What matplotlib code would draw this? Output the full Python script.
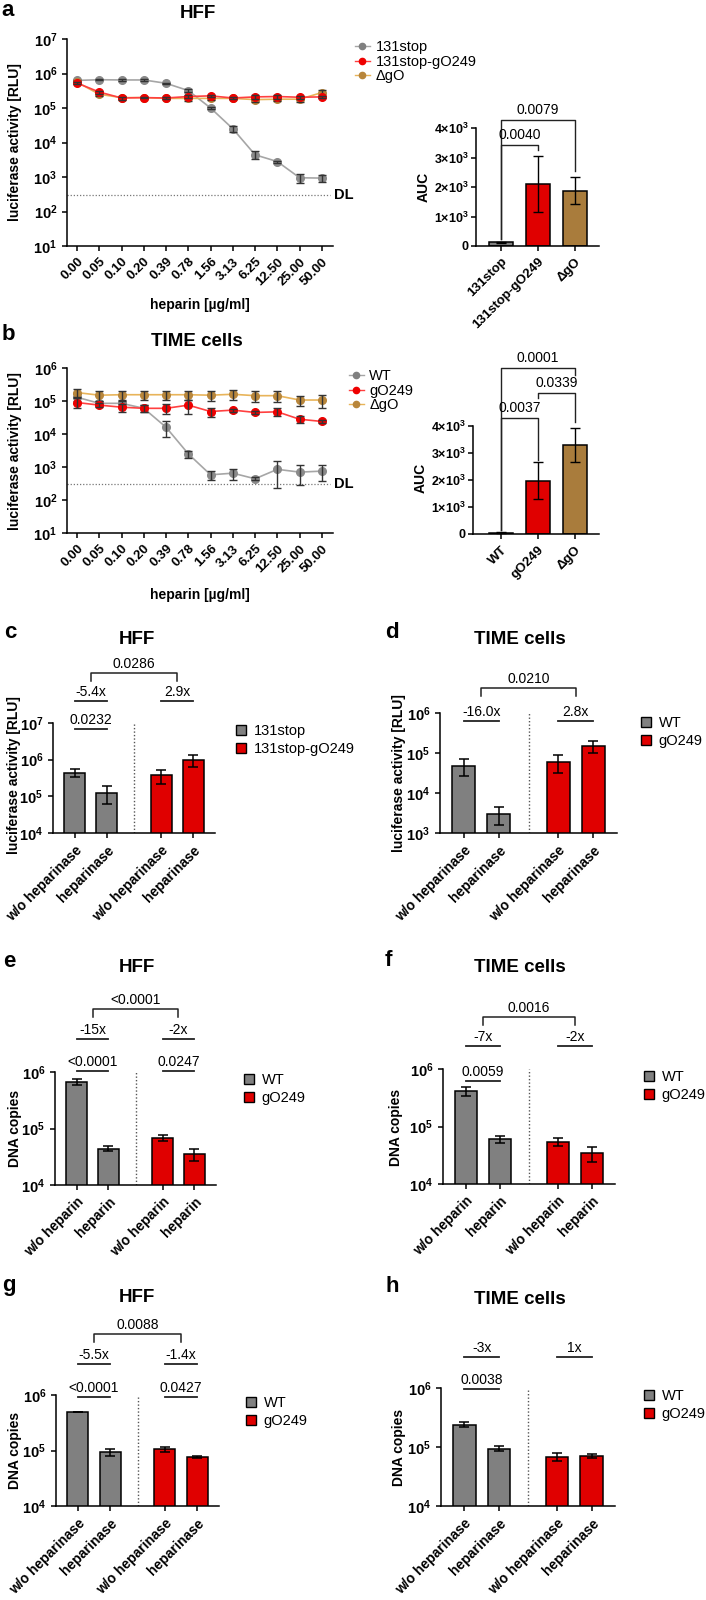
import numpy as np
import matplotlib
matplotlib.use('Agg')
import matplotlib.pyplot as plt
from matplotlib.ticker import NullLocator
from matplotlib.patches import Patch
from matplotlib.lines import Line2D

plt.rcParams['font.family'] = ['Liberation Sans', 'DejaVu Sans']
plt.rcParams['font.weight'] = 'bold'
plt.rcParams['mathtext.fontset'] = 'custom'
plt.rcParams['mathtext.rm'] = 'Liberation Sans'
plt.rcParams['mathtext.bf'] = 'Liberation Sans:bold'
plt.rcParams['mathtext.default'] = 'bf'
plt.rcParams['axes.linewidth'] = 1.1

# ---- data ----
heparin = ['0.00', '0.05', '0.10', '0.20', '0.39', '0.78', '1.56', '3.13',
           '6.25', '12.50', '25.00', '50.00']

a_131 = [6.3e5, 6.6e5, 6.5e5, 6.5e5, 5.2e5, 3.2e5, 1.0e5, 2.5e4, 4.4e3, 2.8e3, 950, 930]
a_131_sd = [4e4, 3e4, 3e4, 3e4, 2e4, 3e4, 5e3, 5e3, 1.1e3, 2e2, 300, 200]
a_g249 = [5.3e5, 2.9e5, 1.95e5, 2.0e5, 1.95e5, 2.15e5, 2.25e5, 1.95e5, 2.1e5, 2.15e5, 2.05e5, 2.1e5]
a_g249_sd = [3e4, 3e4, 2e4, 1e4, 1e4, 2e4, 2e4, 1e4, 3e4, 3e4, 2e4, 2e4]
a_dgo = [5.6e5, 2.5e5, 2.0e5, 2.0e5, 1.9e5, 1.9e5, 1.9e5, 1.9e5, 1.75e5, 1.8e5, 1.8e5, 2.8e5]
a_dgo_sd = [3e4, 2e4, 2e4, 1e4, 1e4, 3e4, 2e4, 1e4, 3e4, 2e4, 3e4, 5e4]

b_wt = [1.3e5, 8.5e4, 8.5e4, 6.0e4, 1.6e4, 2.5e3, 580, 650, 440, 850, 700, 750]
b_wt_sd = [3e4, 1.5e4, 1.5e4, 1.5e4, 8e3, 6e2, 190, 250, 50, 620, 420, 380]
b_g249 = [9.0e4, 7.5e4, 6.5e4, 6.0e4, 6.0e4, 7.5e4, 4.8e4, 5.3e4, 4.5e4, 4.7e4, 2.8e4, 2.4e4]
b_g249_sd = [3e4, 1e4, 1.8e4, 1.5e4, 2e4, 3.5e4, 1.5e4, 5e3, 5e3, 1.3e4, 6e3, 2e3]
b_dgo = [1.8e5, 1.5e5, 1.55e5, 1.55e5, 1.55e5, 1.55e5, 1.5e5, 1.6e5, 1.45e5, 1.45e5, 1.07e5, 1.07e5]
b_dgo_sd = [5e4, 5e4, 5e4, 5e4, 5e4, 5e4, 5e4, 5e4, 5e4, 5e4, 3.5e4, 4.5e4]
detection_limit = 300

auc_a_names = ['131stop', '131stop-gO249', 'ΔgO']
auc_a = [120, 2100, 1880]
auc_a_sd = [30, 960, 450]
auc_b_names = ['WT', 'gO249', 'ΔgO']
auc_b = [50, 1970, 3300]
auc_b_sd = [20, 680, 630]

heparinase_lbl = ['w/o heparinase', 'heparinase', 'w/o heparinase', 'heparinase']
heparin_lbl = ['w/o heparin', 'heparin', 'w/o heparin', 'heparin']

c_vals = [4.4e5, 1.25e5, 3.7e5, 9.7e5]
c_sd = [1e5, 6.5e4, 1.5e5, 3.5e5]
d_vals = [4.8e4, 3.0e3, 6.0e4, 1.5e5]
d_sd = [2.1e4, 1.4e3, 2.8e4, 4.8e4]
e_vals = [6.7e5, 4.4e4, 6.8e4, 3.5e4]
e_sd = [7e4, 4.5e3, 8e3, 8.5e3]
f_vals = [4.1e5, 6.1e4, 5.4e4, 3.4e4]
f_sd = [7e4, 8.5e3, 8e3, 1e4]
g_vals = [4.9e5, 9.3e4, 1.06e5, 7.6e4]
g_sd = [5e3, 1.4e4, 1.2e4, 3e3]
h_vals = [2.4e5, 9.4e4, 6.9e4, 7.1e4]
h_sd = [2.5e4, 9e3, 1e4, 5e3]

GRAY, RED, BROWN = '#808080', '#e00000', '#a97c3c'

W, H = 706, 1600
fig = plt.figure(figsize=(W / 100, H / 100), dpi=100)


def add_ax(l, t, r, b):
    ax = fig.add_axes([l / W, 1 - b / H, (r - l) / W, (b - t) / H])
    ax.spines[['top', 'right']].set_visible(False)
    ax.tick_params(length=3.5, width=1.1, labelsize=10.5)
    return ax


def ftext(x, y, s, **kw):
    fig.text(x / W, 1 - y / H, s, **kw)


def log_axis(ax, lo, hi):
    ax.set_yscale('log')
    ax.set_ylim(10 ** lo, 10 ** hi)
    ks = range(lo, hi + 1)
    ax.set_yticks([10.0 ** k for k in ks], ['10$^{%d}$' % k for k in ks])
    ax.yaxis.set_minor_locator(NullLocator())


def line_panel(ax, series, hi):
    x = np.arange(len(heparin))
    for vals, sd, mc, lc, z in series:
        ax.plot(x, vals, '-', color=lc, lw=1.2, zorder=z)
        ax.errorbar(x, vals, yerr=sd, fmt='none', ecolor='#333333', elinewidth=1,
                    capsize=2.8, capthick=1, zorder=z + 0.5)
        ax.plot(x, vals, 'o', color=mc, ms=5.5, zorder=z + 0.2)
    log_axis(ax, 1, hi)
    ax.set_xlim(-0.45, 11.5)
    ax.set_xticks(x, heparin, rotation=45, ha='right', rotation_mode='anchor', fontsize=9.5)
    ax.axhline(detection_limit, xmax=0.99, color='#777777', ls=(0, (1, 1.5)), lw=0.9)
    ax.text(1.003, detection_limit, 'DL', transform=ax.get_yaxis_transform(),
            va='center', ha='left', fontsize=10.5)


def auc_panel(ax, names, vals, sd, colors, xl):
    x = np.arange(len(names))
    ax.bar(x, vals, width=0.65, color=colors, edgecolor='black', lw=1.1, zorder=2)
    ax.errorbar(x, vals, yerr=sd, fmt='none', ecolor='black', elinewidth=1,
                capsize=3.5, capthick=1, zorder=3)
    ax.set_ylim(0, 4000)
    ax.set_yticks([0, 1000, 2000, 3000, 4000],
                  ['0'] + ['%d×10$^{3}$' % k for k in range(1, 5)])
    ax.tick_params(axis='y', labelsize=9, pad=2)
    ax.set_xlim(xl, 2.65)
    ax.set_xticks(x, names, rotation=45, ha='right', rotation_mode='anchor', fontsize=9.5)


def bracket_data(ax, x1, x2, y, y1, y2, s):
    ax.plot([x1, x1, x2, x2], [y1, y, y, y2], color='#222222', lw=1, clip_on=False)
    ax.annotate(s, ((x1 + x2) / 2, y), xytext=(0, 2), textcoords='offset points',
                ha='center', va='bottom', fontsize=10, fontweight='normal',
                annotation_clip=False)


gap = 0.7
pos = np.array([i + gap * (i >= 2) for i in range(4)])


def bar_panel(ax, vals, sd, labels, lo, hi):
    log_axis(ax, lo, hi)
    ax.bar(pos, vals, width=0.65, color=[GRAY, GRAY, RED, RED], edgecolor='black',
           lw=1.1, zorder=2)
    ax.errorbar(pos, vals, yerr=sd, fmt='none', ecolor='black', elinewidth=1.1,
                capsize=3.5, capthick=1.1, zorder=3)
    ax.set_ylim(10 ** lo, 10 ** hi)
    ax.set_xlim(-0.68, 4.38)
    ax.set_xticks(pos, labels, rotation=45, ha='right', rotation_mode='anchor', fontsize=10)
    ax.axvline((pos[1] + pos[2]) / 2, color='#555555', ls=(0, (1, 1.5)), lw=1)


def hline(ax, x1, x2, yf, s, legs=False):
    tr = ax.get_xaxis_transform()
    if legs:
        ax.plot([x1, x1, x2, x2], [yf - 0.07, yf, yf, yf - 0.07], color='#222222',
                lw=1.1, transform=tr, clip_on=False)
    else:
        ax.plot([x1, x2], [yf, yf], color='#222222', lw=1.3, transform=tr, clip_on=False)
    ax.annotate(s, ((x1 + x2) / 2, yf), xycoords=tr, xytext=(0, 1.5),
                textcoords='offset points', ha='center', va='bottom', fontsize=10,
                fontweight='normal', annotation_clip=False)


def annotate_bars(ax, top=None, folds=None, sigs=None):
    m1, m2 = (pos[0] + pos[1]) / 2, (pos[2] + pos[3]) / 2
    groups = [(pos[0], pos[1]), (pos[2], pos[3])]
    if top:
        hline(ax, m1, m2, top[0], top[1], legs=True)
    if folds:
        for (x1, x2), s in zip(groups, folds[1]):
            hline(ax, x1, x2, folds[0], s)
    if sigs:
        for (x1, x2), s in zip(groups, sigs[1]):
            if s:
                hline(ax, x1, x2, sigs[0], s)


def bar_legend(x, y, names):
    handles = [Patch(facecolor=c, edgecolor='black', lw=1) for c in (GRAY, RED)]
    fig.legend(handles, names, loc='upper left', bbox_to_anchor=(x / W, 1 - y / H),
               frameon=False, borderpad=0, borderaxespad=0, handlelength=0.7,
               handleheight=0.7, handletextpad=0.5, labelspacing=0.3,
               prop={'size': 10.5, 'weight': 'normal'})


def line_legend(x, y, names):
    handles = [Line2D([], [], color=lc, marker='o', ms=4.5, mfc=mc, mec=mc, lw=1)
               for mc, lc in ((GRAY, '#a6a6a6'), ('#ee0000', '#ff4040'), ('#b8863b', '#e8b45a'))]
    fig.legend(handles, names, loc='upper left', bbox_to_anchor=(x / W, 1 - y / H),
               frameon=False, borderpad=0, borderaxespad=0, handlelength=1.0,
               handletextpad=0.4, labelspacing=0.05,
               prop={'size': 10.5, 'weight': 'normal'})


# ---- panel a ----
ax = add_ax(67, 39, 333, 246)
line_panel(ax, [(a_131, a_131_sd, '#8a8a8a', '#a6a6a6', 2),
                (a_dgo, a_dgo_sd, '#b8863b', '#e8b45a', 3),
                (a_g249, a_g249_sd, '#ee0000', '#ff4040', 4)], 7)
ftext(8, 10, 'a', fontsize=16, ha='center', va='center')
ftext(198, 13, 'HFF', fontsize=13.5, ha='center', va='center')
ftext(15, 142, 'luciferase activity [RLU]', rotation=90, fontsize=10, ha='center', va='center')
ftext(200, 305, 'heparin [µg/ml]', fontsize=10, ha='center', va='center')
line_legend(355, 40, ['131stop', '131stop-gO249', 'ΔgO'])

ax = add_ax(476, 128, 599, 246)
auc_panel(ax, auc_a_names, auc_a, auc_a_sd, [GRAY, RED, BROWN], -0.68)
bracket_data(ax, 0, 1, 3420, 250, 3250, '0.0040')
bracket_data(ax, 0, 2, 4270, 250, 2550, '0.0079')
ftext(424, 187, 'AUC', rotation=90, fontsize=10, ha='center', va='center')

# ---- panel b ----
ax = add_ax(67, 368, 333, 533)
line_panel(ax, [(b_wt, b_wt_sd, '#8a8a8a', '#a6a6a6', 2),
                (b_dgo, b_dgo_sd, '#b8863b', '#e8b45a', 3),
                (b_g249, b_g249_sd, '#ee0000', '#ff4040', 4)], 6)
ftext(8, 335, 'b', fontsize=16, ha='center', va='center')
ftext(197, 342, 'TIME cells', fontsize=13.5, ha='center', va='center')
ftext(15, 451, 'luciferase activity [RLU]', rotation=90, fontsize=10, ha='center', va='center')
ftext(200, 595, 'heparin [µg/ml]', fontsize=10, ha='center', va='center')
line_legend(349, 369, ['WT', 'gO249', 'ΔgO'])

ax = add_ax(473, 426, 599, 534)
auc_panel(ax, auc_b_names, auc_b, auc_b_sd, [GRAY, RED, BROWN], -0.76)
bracket_data(ax, 0, 1, 4300, 150, 2750, '0.0037')
bracket_data(ax, 1, 2, 5220, 5040, 4150, '0.0339')
bracket_data(ax, 0, 2, 6150, 150, 5900, '0.0001')
ftext(421, 478, 'AUC', rotation=90, fontsize=10, ha='center', va='center')

# ---- panel c ----
ax = add_ax(53, 723, 215, 833)
bar_panel(ax, c_vals, c_sd, heparinase_lbl, 4, 7)
annotate_bars(ax, (1.455, '0.0286'), (1.2, ['-5.4x', '2.9x']), (0.945, ['0.0232', None]))
ftext(10, 632, 'c', fontsize=16, ha='center', va='center')
ftext(137, 640, 'HFF', fontsize=13.5, ha='center', va='center')
ftext(14, 775, 'luciferase activity [RLU]', rotation=90, fontsize=10, ha='center', va='center')
bar_legend(236, 724, ['131stop', '131stop-gO249'])

# ---- panel d ----
ax = add_ax(440, 713, 617, 833)
bar_panel(ax, d_vals, d_sd, heparinase_lbl, 3, 6)
annotate_bars(ax, (1.208, '0.0210'), (0.933, ['-16.0x', '2.8x']))
ftext(392, 632, 'd', fontsize=16, ha='center', va='center')
ftext(520, 640, 'TIME cells', fontsize=13.5, ha='center', va='center')
ftext(399, 773, 'luciferase activity [RLU]', rotation=90, fontsize=10, ha='center', va='center')
bar_legend(641, 716, ['WT', 'gO249'])

# ---- panel e ----
ax = add_ax(55, 1072, 216, 1185)
bar_panel(ax, e_vals, e_sd, heparin_lbl, 4, 6)
annotate_bars(ax, (1.558, '<0.0001'), (1.292, ['-15x', '-2x']), (1.009, ['<0.0001', '0.0247']))
ftext(9, 962, 'e', fontsize=16, ha='center', va='center')
ftext(137, 967, 'HFF', fontsize=13.5, ha='center', va='center')
ftext(15, 1128, 'DNA copies', rotation=90, fontsize=10, ha='center', va='center')
bar_legend(244, 1073, ['WT', 'gO249'])

# ---- panel f ----
ax = add_ax(443, 1069, 615, 1184)
bar_panel(ax, f_vals, f_sd, heparin_lbl, 4, 6)
annotate_bars(ax, (1.452, '0.0016'), (1.2, ['-7x', '-2x']), (0.896, ['0.0059', None]))
ftext(388, 960, 'f', fontsize=16, ha='center', va='center')
ftext(520, 967, 'TIME cells', fontsize=13.5, ha='center', va='center')
ftext(396, 1127, 'DNA copies', rotation=90, fontsize=10, ha='center', va='center')
bar_legend(644, 1070, ['WT', 'gO249'])

# ---- panel g ----
ax = add_ax(56, 1395, 219, 1506)
bar_panel(ax, g_vals, g_sd, heparinase_lbl, 4, 6)
annotate_bars(ax, (1.55, '0.0088'), (1.279, ['-5.5x', '-1.4x']), (0.982, ['<0.0001', '0.0427']))
ftext(9, 1285, 'g', fontsize=16, ha='center', va='center')
ftext(137, 1297, 'HFF', fontsize=13.5, ha='center', va='center')
ftext(15, 1450, 'DNA copies', rotation=90, fontsize=10, ha='center', va='center')
bar_legend(246, 1396, ['WT', 'gO249'])

# ---- panel h ----
ax = add_ax(441, 1388, 615, 1506)
bar_panel(ax, h_vals, h_sd, heparinase_lbl, 4, 6)
annotate_bars(ax, None, (1.263, ['-3x', '1x']), (0.992, ['0.0038', None]))
ftext(392, 1286, 'h', fontsize=16, ha='center', va='center')
ftext(520, 1300, 'TIME cells', fontsize=13.5, ha='center', va='center')
ftext(399, 1447, 'DNA copies', rotation=90, fontsize=10, ha='center', va='center')
bar_legend(644, 1389, ['WT', 'gO249'])

fig.savefig('out.png', dpi=100)
